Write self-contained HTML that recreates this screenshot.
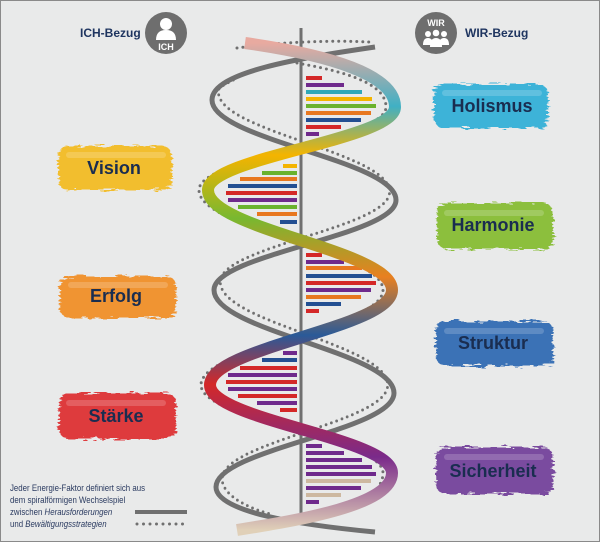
<!DOCTYPE html>
<html><head><meta charset="utf-8"><style>
html,body{margin:0;padding:0;width:600px;height:542px;overflow:hidden;background:#e9eaea}
svg{display:block}
</style></head><body>
<svg width="600" height="542" viewBox="0 0 600 542" xmlns="http://www.w3.org/2000/svg" font-family="Liberation Sans, sans-serif">
<defs>
<linearGradient id="rg" gradientUnits="userSpaceOnUse" x1="0" y1="43" x2="0" y2="530">
<stop offset="0" stop-color="#e8aaa0"/><stop offset="0.13" stop-color="#40b0c4"/>
<stop offset="0.23" stop-color="#f4b400"/><stop offset="0.36" stop-color="#78b830"/>
<stop offset="0.48" stop-color="#e88020"/><stop offset="0.60" stop-color="#2a5a98"/>
<stop offset="0.70" stop-color="#d42828"/><stop offset="0.85" stop-color="#7a2a8a"/>
<stop offset="1" stop-color="#e0d0b8"/></linearGradient>
<filter id="br" x="-10%" y="-20%" width="120%" height="140%">
<feTurbulence type="fractalNoise" baseFrequency="0.08 0.5" numOctaves="2" seed="3"/>
<feDisplacementMap in="SourceGraphic" scale="9"/></filter>
</defs>
<rect x="0.5" y="0.5" width="599" height="541" fill="#e9eaea" stroke="#8a8a8a"/>

<text x="80" y="37" font-size="12" font-weight="bold" fill="#1f3560">ICH-Bezug</text>
<circle cx="166" cy="33" r="21" fill="#6e6e6e"/>
<circle cx="166" cy="24" r="6" fill="#fff"/>
<path d="M156,40 q0,-10 10,-10 q10,0 10,10 z" fill="#fff"/>
<text x="166" y="50" font-size="9" font-weight="bold" fill="#fff" text-anchor="middle">ICH</text>
<circle cx="436" cy="33" r="21" fill="#6e6e6e"/>
<text x="436" y="26" font-size="9" font-weight="bold" fill="#fff" text-anchor="middle">WIR</text>
<circle cx="428" cy="34" r="3" fill="#fff"/><circle cx="436" cy="33" r="3.3" fill="#fff"/><circle cx="444" cy="34" r="3" fill="#fff"/>
<path d="M423,45 q0,-7 5,-7 q5,0 5,7z M430,47 q0,-9 6,-9 q6,0 6,9z M439,45 q0,-7 5,-7 q5,0 5,7z" fill="#fff"/>
<text x="465" y="37" font-size="12" font-weight="bold" fill="#1f3560">WIR-Bezug</text>

<g filter="url(#br)">
<rect x="58" y="146" width="114" height="44" rx="10" fill="#f2be2e"/>
<rect x="60" y="276" width="116" height="42" rx="10" fill="#f09430"/>
<rect x="59" y="393" width="117" height="46" rx="10" fill="#de3a3e"/>
<rect x="434" y="84" width="114" height="44" rx="10" fill="#3db3d8"/>
<rect x="437" y="203" width="116" height="46" rx="10" fill="#8cbf3e"/>
<rect x="436" y="321" width="117" height="45" rx="10" fill="#3b72b6"/>
<rect x="436" y="447" width="117" height="47" rx="10" fill="#7a4b9f"/>
</g>
<g fill="#fff" opacity="0.18">
<rect x="66" y="152" width="100" height="6" rx="3"/><rect x="68" y="282" width="100" height="6" rx="3"/><rect x="66" y="400" width="100" height="6" rx="3"/>
<rect x="442" y="90" width="100" height="6" rx="3"/><rect x="444" y="210" width="100" height="6" rx="3"/><rect x="444" y="328" width="100" height="6" rx="3"/><rect x="444" y="454" width="100" height="6" rx="3"/>
</g>
<g font-size="18" font-weight="bold" fill="#1a2d50" text-anchor="middle">
<text x="114" y="174">Vision</text><text x="116" y="302">Erfolg</text><text x="116" y="422">Stärke</text>
<text x="492" y="112">Holismus</text><text x="493" y="231">Harmonie</text><text x="493" y="349">Struktur</text><text x="493" y="477">Sicherheit</text>
</g>

<g>
<rect x="306" y="76" width="16" height="4" fill="#d42828"/><rect x="306" y="83" width="38" height="4" fill="#6f2a8c"/><rect x="306" y="90" width="56" height="4" fill="#2fa8b8"/><rect x="306" y="97" width="66" height="4" fill="#f4b400"/><rect x="306" y="104" width="70" height="4" fill="#6ab22e"/><rect x="306" y="111" width="65" height="4" fill="#e87820"/><rect x="306" y="118" width="55" height="4" fill="#234f92"/><rect x="306" y="125" width="35" height="4" fill="#d42828"/><rect x="306" y="132" width="13" height="4" fill="#6f2a8c"/>
<rect x="283" y="164" width="14" height="4" fill="#f4b400"/><rect x="262" y="171" width="35" height="4" fill="#6ab22e"/><rect x="240" y="177" width="57" height="4" fill="#e87820"/><rect x="228" y="184" width="69" height="4" fill="#234f92"/><rect x="226" y="191" width="71" height="4" fill="#d42828"/><rect x="228" y="198" width="69" height="4" fill="#6f2a8c"/><rect x="238" y="205" width="59" height="4" fill="#6ab22e"/><rect x="257" y="212" width="40" height="4" fill="#e87820"/><rect x="280" y="220" width="17" height="4" fill="#234f92"/>
<rect x="306" y="253" width="16" height="4" fill="#d42828"/><rect x="306" y="260" width="38" height="4" fill="#6f2a8c"/><rect x="306" y="266" width="56" height="4" fill="#e87820"/><rect x="306" y="274" width="66" height="4" fill="#234f92"/><rect x="306" y="281" width="70" height="4" fill="#d42828"/><rect x="306" y="288" width="65" height="4" fill="#6f2a8c"/><rect x="306" y="295" width="55" height="4" fill="#e87820"/><rect x="306" y="302" width="35" height="4" fill="#234f92"/><rect x="306" y="309" width="13" height="4" fill="#d42828"/>
<rect x="283" y="351" width="14" height="4" fill="#6f2a8c"/><rect x="262" y="358" width="35" height="4" fill="#234f92"/><rect x="240" y="366" width="57" height="4" fill="#d42828"/><rect x="228" y="373" width="69" height="4" fill="#6f2a8c"/><rect x="226" y="380" width="71" height="4" fill="#d42828"/><rect x="228" y="387" width="69" height="4" fill="#6f2a8c"/><rect x="238" y="394" width="59" height="4" fill="#d42828"/><rect x="257" y="401" width="40" height="4" fill="#6f2a8c"/><rect x="280" y="408" width="17" height="4" fill="#d42828"/>
<rect x="306" y="444" width="16" height="4" fill="#6f2a8c"/><rect x="306" y="451" width="38" height="4" fill="#6f2a8c"/><rect x="306" y="458" width="56" height="4" fill="#6f2a8c"/><rect x="306" y="465" width="66" height="4" fill="#6f2a8c"/><rect x="306" y="472" width="70" height="4" fill="#6f2a8c"/><rect x="306" y="479" width="65" height="4" fill="#cdb8a0"/><rect x="306" y="486" width="55" height="4" fill="#6f2a8c"/><rect x="306" y="493" width="35" height="4" fill="#cdb8a0"/><rect x="306" y="500" width="13" height="4" fill="#6f2a8c"/>
</g>

<line x1="301" y1="28" x2="301" y2="517" stroke="#707070" stroke-width="3"/>
<path d="M375,47 C300,58 212,72 212,100 C212,140 396,160 396,200 C396,236 214,254 214,290 C214,331 394,352 394,393 C394,431 216,449 216,487 C216,512 300,525 375,532" fill="none" stroke="#707070" stroke-width="5"/>
<g fill="none" stroke="#707070" stroke-width="3" stroke-linecap="round" stroke-dasharray="0 6">
<path transform="translate(304,-8) scale(0.93,1) translate(-304,0)" d="M228,88 C214,95 212,95 212,100 C212,140 396,160 396,200 C396,236 214,254 214,290 C214,331 394,352 394,393 C394,431 216,449 216,487 C216,505 250,518 268,522"/>
<path d="M237,48 C280,42 330,40 369,42"/>
<path transform="translate(-9,0)" d="M300,62 C360,72 395,85 395,107 C395,140 208,157 208,190 C208,230 392,250 392,290 C392,328 210,347 210,385 C210,420 392,438 392,473 C392,495 360,508 330,515"/>
</g>
<path d="M245,43 C330,55 395,75 395,107 C395,140 208,157 208,190 C208,230 392,250 392,290 C392,328 210,347 210,385 C210,420 392,438 392,473 C392,505 300,520 237,530" fill="none" stroke="url(#rg)" stroke-width="12"/>

<g font-size="9.6" fill="#2a3a60" transform="translate(10,0) scale(0.82,1)">
<text x="0" y="491">Jeder Energie-Faktor definiert sich aus</text>
<text x="0" y="503">dem spiralförmigen Wechselspiel</text>
<text x="0" y="515">zwischen <tspan font-style="italic">Herausforderungen</tspan></text>
<text x="0" y="527">und <tspan font-style="italic">Bewältigungsstrategien</tspan></text>
</g>
<line x1="135" y1="512" x2="187" y2="512" stroke="#707070" stroke-width="4"/>
<line x1="137" y1="524" x2="187" y2="524" stroke="#707070" stroke-width="3" stroke-linecap="round" stroke-dasharray="0 6.5"/>
</svg>
</body></html>
